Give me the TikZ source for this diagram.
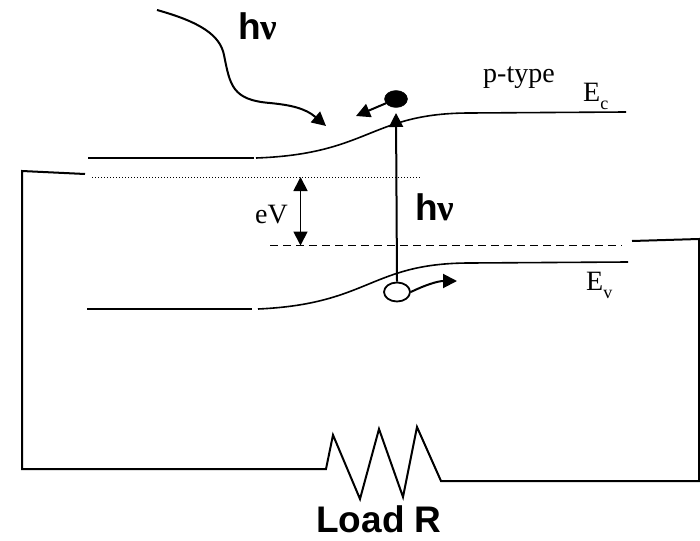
\documentclass[tikz,border=0pt]{standalone}
\usepackage{fontspec}
\setmainfont{Liberation Serif}
\newfontfamily\labelfont{Liberation Sans}
\newcommand{\lowsub}[1]{\raisebox{-8pt}{\fontsize{18}{19}\selectfont #1}}
\usetikzlibrary{arrows.meta,shapes.geometric}
\tikzset{
    band/.style={line width=1.6pt},
    wire/.style={line width=2pt},
    tip/.style={-{Triangle[length=14pt,width=14pt]}, line width=2pt},
    boldlabel/.style={font=\labelfont\bfseries\fontsize{37}{40}\selectfont, inner sep=0pt},
    textlabel/.style={font=\fontsize{28}{30}\selectfont, inner sep=0pt}
}
\begin{document}
\begin{tikzpicture}[x=1pt,y=-1pt]
    \useasboundingbox (0,0) rectangle (700,540);
    % conduction band
    \draw[band] (88,158) -- (254,158);
    \draw[band] (256,158) .. controls (370,154) and (370,113) .. (470,113) -- (626,112);
    % fermi levels
    \draw[line width=1pt, dotted] (92,177) -- (420,177);
    \draw[line width=1.8pt, dash pattern=on 8pt off 5pt] (270,245.5) -- (622,245.5);
    % valence band
    \draw[band] (87,309) -- (252,309);
    \draw[band] (258,309) .. controls (370,304) and (370,263) .. (470,263) -- (628,262);
    % carriers
    \node[ellipse, fill=black, draw, minimum width=23pt, minimum height=17pt, inner sep=0pt] (electron) at (396,99) {};
    \node[ellipse, draw, line width=1.8pt, minimum width=26pt, minimum height=19pt, inner sep=0pt] (hole) at (397,292) {};
    \coordinate (electronend) at (356,116);
    \coordinate (holeend) at (457,281);
    \coordinate (bandtop) at (396,113);
    \draw[tip] (electron) -- (electronend);
    \draw[tip] (hole.north) -- (bandtop);
    \draw[tip] (hole.east) .. controls (425,285) and (438,281) .. (holeend);
    % incoming light
    \coordinate (lightstart) at (157,10);
    \coordinate (lightend) at (326,126);
    \draw[tip] (lightstart) .. controls (200,22) and (220,35) .. (224,55)
        .. controls (230,85) and (232,100) .. (270,103)
        .. controls (290,105) and (305,108) .. (lightend);
    % bias
    \coordinate (topa) at (300.5,177);
    \coordinate (topb) at (300.5,245.5);
    \draw[{Triangle[length=14pt,width=14pt]}-{Triangle[length=14pt,width=14pt]}, line width=1.8pt] (topa) -- (topb);
    % circuit and load
    \draw[wire, line join=miter] (85,174) -- (22,171) -- (22,469) -- (326,469) -- (333,435) -- (360,499)
        -- (379,429) -- (403,497) -- (417,427) -- (441,481) -- (699,481) -- (699,239) -- (632,241);
    % labels
    \node[boldlabel, anchor=base west] (lighta) at (238,40) {h{\rmfamily ν}};
    \node[boldlabel, anchor=base west] (lightb) at (415,220) {h{\rmfamily ν}};
    \node[boldlabel, anchor=base] (load) at (379,532) {Load R};
    \node[textlabel, anchor=base west] (ptype) at (483,83) {p-type};
    \node[textlabel, anchor=base west] (ec) at (583,102) {E\lowsub{c}};
    \node[textlabel, anchor=base west] (ev) at (586,290) {E\lowsub{v}};
    \node[textlabel, anchor=base west] (ev2) at (255,223) {eV};
\end{tikzpicture}
\end{document}
